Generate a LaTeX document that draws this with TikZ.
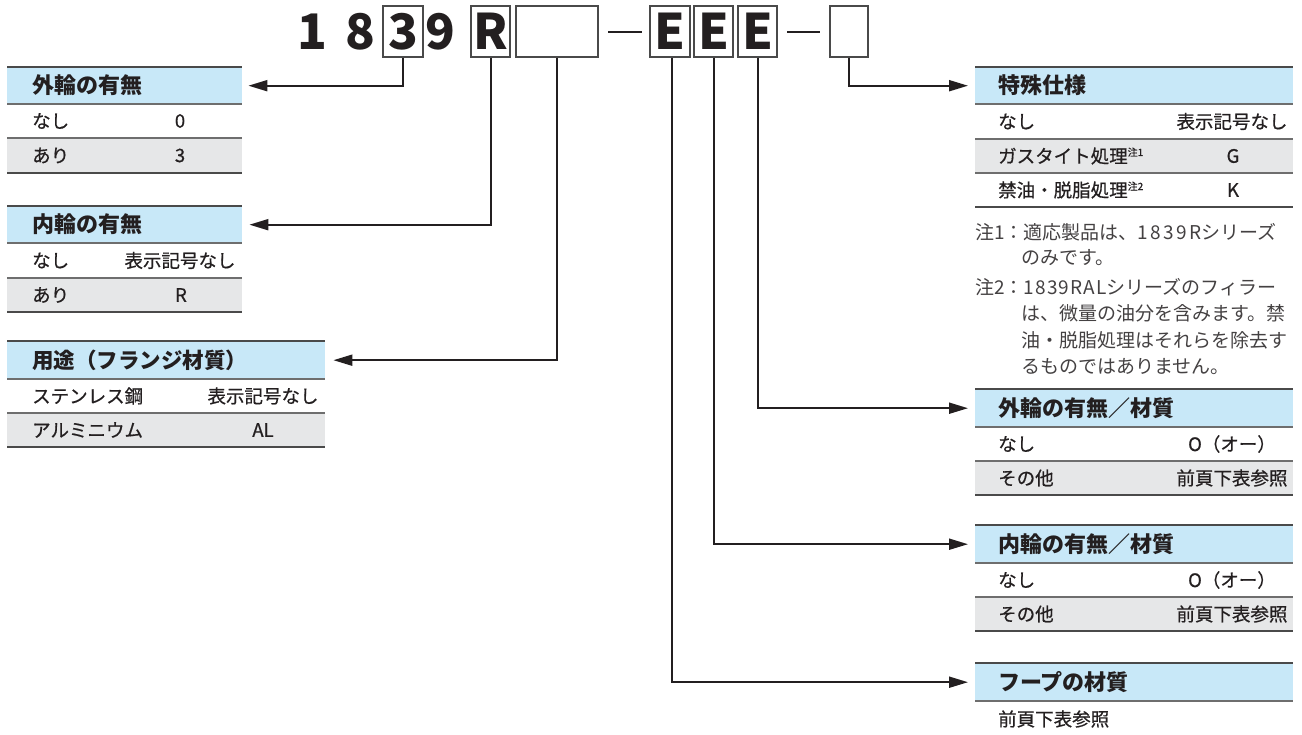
\documentclass[tikz,border=0pt]{standalone}
\usepackage{fontspec}
\setmainfont{Noto Sans CJK JP}
\newfontfamily\medfont{Noto Sans CJK JP}[FakeBold=0.6]
\usetikzlibrary{arrows.meta}
\definecolor{hdrblue}{HTML}{C8E8F8}
\definecolor{rowgray}{HTML}{E6E7E8}
\definecolor{ink}{HTML}{231F20}
\definecolor{rulec}{HTML}{4A4A4A}
\tikzset{
 hdrbox/.style={fill=hdrblue,draw=none,inner sep=0pt,anchor=north west,minimum height=37pt},
 toprule/.style={draw=rulec,line width=2pt},
 midrule/.style={draw=rulec!80,line width=1.5pt},
 htext/.style={anchor=west,inner sep=0pt,text=ink,font=\bfseries\fontsize{22}{22}\selectfont},
 rtext/.style={anchor=west,inner sep=0pt,text=ink,font=\medfont\fontsize{18.5}{18.5}\selectfont},
 vtext/.style={anchor=center,inner sep=0pt,text=ink,font=\medfont\fontsize{18.5}{18.5}\selectfont},
 ntext/.style={anchor=west,inner sep=0pt,text=ink!85,font=\fontsize{19}{19}\selectfont},
 digit/.style={inner sep=0pt,text=ink,font=\bfseries\fontsize{49}{49}\selectfont},
 codebox/.style={draw=rulec,line width=1.4pt,inner sep=0pt,minimum height=51pt,text=ink,font=\bfseries\fontsize{49}{49}\selectfont},
 conn/.style={draw=ink,line width=2pt,-{Triangle[length=19pt,width=11pt]}},
 dashline/.style={draw=ink,line width=2.4pt},
}
\newcommand{\chu}[1]{\raisebox{7pt}{\fontsize{10}{10}\selectfont #1}}
\newcommand{\nd}[1]{\addfontfeature{LetterSpace=12}#1}
\begin{document}
\begin{tikzpicture}[x=1pt,y=-1pt]
\useasboundingbox (0,0) rectangle (1302,735);

% ---------- code row ----------
\node[digit] (d1) at (312,31.5) {1};
\node[digit] (d8) at (360,31.5) {8};
\node[codebox,minimum width=40pt] (b3) at (403,31.5) {3};
\node[digit] (d9) at (440,31.5) {9};
\node[codebox,minimum width=39pt] (bR) at (490.5,31.5) {R};
\node[codebox,minimum width=82pt] (bblank) at (557,31.5) {};
\coordinate (da1) at (608,32); \coordinate (db1) at (642,32);
\draw[dashline] (da1) -- (db1);
\node[codebox,minimum width=40pt] (bE1) at (670,31.5) {E};
\node[codebox,minimum width=39pt] (bE2) at (713.5,31.5) {E};
\node[codebox,minimum width=39pt] (bE3) at (757.5,31.5) {E};
\coordinate (da2) at (787,32); \coordinate (db2) at (820,32);
\draw[dashline] (da2) -- (db2);
\node[codebox,minimum width=38pt] (blast) at (849,31.5) {};

% ---------- left table 1 ----------
\node[hdrbox,minimum width=235pt] (t1h) at (7,67) {};
\fill[rowgray] (7,138) rectangle (242,173);
\draw[toprule] (7,67) -- (242,67);
\draw[midrule] (7,104) -- (242,104);
\draw[midrule] (7,138) -- (242,138);
\draw[toprule] (7,173) -- (242,173);
\node[htext] (t1t) at (32,85.5) {外輪の有無};
\node[rtext] (t1a) at (32,121) {なし};
\node[vtext] (t1b) at (180,121) {0};
\node[rtext] (t1c) at (32,155.5) {あり};
\node[vtext] (t1d) at (180,155.5) {3};

% ---------- left table 2 ----------
\node[hdrbox,minimum width=235pt] (t2h) at (7,206) {};
\fill[rowgray] (7,278) rectangle (242,312);
\draw[toprule] (7,206) -- (242,206);
\draw[midrule] (7,243) -- (242,243);
\draw[midrule] (7,278) -- (242,278);
\draw[toprule] (7,312) -- (242,312);
\node[htext] (t2t) at (32,224.5) {内輪の有無};
\node[rtext] (t2a) at (32,260.5) {なし};
\node[vtext] (t2b) at (180,260.5) {表示記号なし};
\node[rtext] (t2c) at (32,295) {あり};
\node[vtext] (t2d) at (181,295) {R};

% ---------- left table 3 ----------
\node[hdrbox,minimum width=318pt,minimum height=38pt] (t3h) at (7,341) {};
\fill[rowgray] (7,413) rectangle (325,447);
\draw[toprule] (7,341) -- (325,341);
\draw[midrule] (7,379) -- (325,379);
\draw[midrule] (7,413) -- (325,413);
\draw[toprule] (7,447) -- (325,447);
\node[htext,font=\bfseries\fontsize{21.5}{21.5}\selectfont] (t3t) at (32,360) {用途（フランジ材質）};
\node[rtext] (t3a) at (32,396) {ステンレス鋼};
\node[vtext] (t3b) at (263,396) {表示記号なし};
\node[rtext] (t3c) at (32,430) {アルミニウム};
\node[vtext] (t3d) at (263,430) {AL};

% ---------- right table 4: 特殊仕様 ----------
\node[hdrbox,minimum width=318pt] (t4h) at (975,67) {};
\fill[rowgray] (975,139) rectangle (1293,173);
\draw[toprule] (975,67) -- (1293,67);
\draw[midrule] (975,104) -- (1293,104);
\draw[midrule] (975,139) -- (1293,139);
\draw[midrule] (975,173) -- (1293,173);
\draw[toprule] (975,207) -- (1293,207);
\node[htext] (t4t) at (998,85.5) {特殊仕様};
\node[rtext] (t4a) at (998,121.5) {なし};
\node[vtext] (t4b) at (1232,121.5) {表示記号なし};
\node[rtext] (t4c) at (998,156) {ガスタイト処理\chu{注1}};
\node[vtext] (t4d) at (1233,156) {G};
\node[rtext] (t4e) at (998,190) {禁油・脱脂処理\chu{注2}};
\node[vtext] (t4f) at (1233,190) {K};
\node[ntext] (n1a) at (975,232) {注1：適応製品は、{\nd{1839R}}シリーズ};
\node[ntext] (n1b) at (1021,258) {のみです。};
\node[ntext] (n2a) at (975,287) {注2：{\addfontfeature{LetterSpace=6}1839RAL}シリーズのフィラー};
\node[ntext] (n2b) at (1021,313) {は、微量の油分を含みます。禁};
\node[ntext] (n2c) at (1021,340) {油・脱脂処理はそれらを除去す};
\node[ntext] (n2d) at (1021,367) {るものではありません。};

% ---------- right table 5: 外輪の有無／材質 ----------
\node[hdrbox,minimum width=318pt,minimum height=38pt] (t5h) at (975,389) {};
\fill[rowgray] (975,461) rectangle (1293,495);
\draw[toprule] (975,389) -- (1293,389);
\draw[midrule] (975,427) -- (1293,427);
\draw[midrule] (975,461) -- (1293,461);
\draw[toprule] (975,495) -- (1293,495);
\node[htext] (t5t) at (998,408) {外輪の有無／材質};
\node[rtext] (t5a) at (998,444) {なし};
\node[vtext] (t5b) at (1232,444) {O（オー）};
\node[rtext] (t5c) at (998,478) {その他};
\node[vtext] (t5d) at (1232,478) {前頁下表参照};

% ---------- right table 6: 内輪の有無／材質 ----------
\node[hdrbox,minimum width=318pt,minimum height=38pt] (t6h) at (975,525) {};
\fill[rowgray] (975,597) rectangle (1293,631);
\draw[toprule] (975,525) -- (1293,525);
\draw[midrule] (975,563) -- (1293,563);
\draw[midrule] (975,597) -- (1293,597);
\draw[toprule] (975,631) -- (1293,631);
\node[htext] (t6t) at (998,544) {内輪の有無／材質};
\node[rtext] (t6a) at (998,580) {なし};
\node[vtext] (t6b) at (1232,580) {O（オー）};
\node[rtext] (t6c) at (998,614) {その他};
\node[vtext] (t6d) at (1232,614) {前頁下表参照};

% ---------- right table 7: フープの材質 ----------
\node[hdrbox,minimum width=318pt,minimum height=38pt] (t7h) at (975,663) {};
\draw[toprule] (975,663) -- (1293,663);
\draw[midrule] (975,701) -- (1293,701);
\node[htext] (t7t) at (998,682) {フープの材質};
\node[rtext] (t7a) at (998,719) {前頁下表参照};

% ---------- connectors ----------
\draw[conn,shorten >=6pt] (b3.south) |- (t1h.east);
\draw[conn,shorten >=7pt] (bR.south) |- (t2h.east);
\draw[conn,shorten >=8pt] (bblank.south) |- (t3h.east);
\draw[conn,shorten >=7pt] (blast.south) |- (t4h.west);
\draw[conn,shorten >=7pt] ([xshift=1.5pt]bE1.south) |- (t7h.west);
\draw[conn,shorten >=7pt] (bE2.south) |- (t6h.west);
\draw[conn,shorten >=7pt] (bE3.south) |- (t5h.west);
\end{tikzpicture}
\end{document}
